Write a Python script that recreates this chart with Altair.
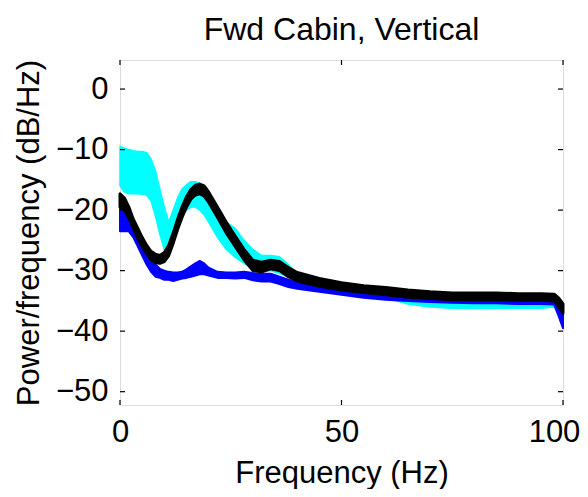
import altair as alt
import pandas as pd

freq = [0, 1, 2, 3, 4, 5, 6, 7, 8, 9, 10, 11, 12, 13, 14, 15, 16, 17, 18, 19, 20,
        22, 24, 26, 28, 30, 32, 34, 36, 38, 40, 45, 50, 55, 60, 65, 70, 75, 80, 85,
        90, 95, 98, 99, 100]

cyan_hi = [-9.5, -9.8, -10, -10.2, -10.3, -10.3, -10.5, -11.5, -13.5, -16.5, -19.5,
           -22, -20, -18, -16.5, -15.8, -15.3, -15.3, -15.5, -16.5, -18,
           -20.5, -22, -23, -25, -26.5, -27.5, -27.5, -27.7, -29, -30.5, -31.5, -32.3,
           -32.8, -33.3, -33.6, -34, -34, -34, -34.2, -34.2, -34.3, -34.3, -35, -38.5]
cyan_lo = [-16, -17, -17.3, -17.3, -17.3, -17.4, -17.5, -18.5, -21, -24, -26.5,
           -25.5, -23.5, -21.5, -20.5, -20, -19.5, -19.5, -20, -20.8, -22,
           -24.5, -26.5, -27.8, -28.8, -29.7, -30, -30, -30.5, -31, -31.8, -33, -33.5,
           -34, -34.5, -35.5, -36, -36.2, -36.2, -36.2, -36.2, -36.2, -36, -37, -39.5]

blue_hi = [-19.5, -20.5, -21.5, -22.5, -24, -25.5, -27, -28.2, -29, -29.7, -30,
           -30.2, -30.3, -30.3, -30.2, -29.8, -29.3, -28.8, -28.4, -28.8, -29.5,
           -30.2, -30.3, -30.3, -30.2, -30.4, -30.5, -30.5, -31, -31.5, -31.9, -32.5, -33,
           -33.3, -33.6, -33.8, -34, -34.1, -34.2, -34.2, -34.3, -34.3, -34.3, -35.5, -37]
blue_lo = [-23.5, -23.5, -23.5, -24.5, -26, -27.5, -29, -30.2, -31, -31.2, -31.5,
           -31.5, -31.7, -31.5, -31.3, -31.2, -31, -30.8, -30.6, -30.6, -30.8,
           -31.2, -31.2, -31.3, -31.2, -31.6, -31.8, -31.8, -32.2, -32.7, -33, -33.5, -34,
           -34.5, -34.8, -35, -35.2, -35.3, -35.4, -35.4, -35.5, -35.5, -35.6, -37.5, -39.5]

black_hi = [-17.3, -18, -19.5, -21.5, -23, -24.5, -25.8, -26.8, -27.3, -27.5, -27,
            -25.8, -23.8, -21.5, -19.5, -17.8, -16.6, -15.9, -15.7, -16, -17,
            -19.5, -22, -24.3, -26.5, -28.3, -28.6, -28.3, -28.5, -29.5, -30.3, -31.3, -32,
            -32.5, -32.8, -33.2, -33.5, -33.7, -33.7, -33.7, -33.8, -33.8, -33.9, -34.5, -35.5]
black_lo = [-19.5, -20, -21.3, -23, -24.7, -26, -27.2, -28.2, -28.7, -28.8, -28.5,
            -27.5, -25.5, -23.2, -21.2, -19.5, -18.2, -17.5, -17.3, -17.7, -18.7,
            -21.2, -23.8, -26, -28.2, -30, -30.2, -29.7, -30, -31, -31.7, -32.6, -33.2,
            -33.6, -34, -34.4, -34.6, -34.8, -34.8, -34.8, -34.9, -34.9, -35, -36, -37]

title_text = "Fwd Cabin, Vertical"
x_title = "Frequency (Hz)"
y_title = "Power/frequency (dB/Hz)"
x_ticks = [0, 50, 100]
y_ticks = [-50, -40, -30, -20, -10, 0]

FONT = "Liberation Sans"
W, H = 443, 345
xs = alt.Scale(domain=[0, 100], nice=False, zero=False)
ys = alt.Scale(domain=[-52.2, 4.8], nice=False, zero=False)


def band(lo, hi, color, sw):
    df = pd.DataFrame({"freq": freq, "lo": lo, "hi": hi})
    return alt.Chart(df).mark_area(color=color, stroke=color, strokeWidth=sw,
                                   strokeJoin="round", opacity=1,
                                   interpolate="linear").encode(
        x=alt.X("freq:Q", scale=xs),
        y=alt.Y("hi:Q", scale=ys),
        y2="lo:Q",
    )


base_axes = alt.Chart(pd.DataFrame({"freq": [0, 100], "v": [-52.2, 4.8]})).mark_point(opacity=0).encode(
    x=alt.X("freq:Q", scale=xs, title=x_title,
            axis=alt.Axis(values=x_ticks, ticks=False, domain=False, grid=False,
                          labelFontSize=31, titleFontSize=31, labelFont=FONT, titleFont=FONT,
                          labelColor="black", titleColor="black", labelPadding=12,
                          labelOffset={"condition": {"test": "datum.value == 100", "value": -9},
                                       "value": 0},
                          titlePadding=11, labelFlush=False, titleFontWeight="normal")),
    y=alt.Y("v:Q", scale=ys, title=y_title,
            axis=alt.Axis(values=y_ticks, ticks=False, domain=False, grid=False,
                          labelFontSize=31, titleFontSize=31, labelFont=FONT, titleFont=FONT,
                          labelColor="black", titleColor="black", labelPadding=12,
                          titlePadding=10, labelFlush=False, titleFontWeight="normal")),
)

ydf = pd.DataFrame({"t": y_ticks})
xdf = pd.DataFrame({"t": x_ticks})
ytl = alt.Chart(ydf).mark_rule(color="black", strokeWidth=1.2).encode(
    y=alt.Y("t:Q", scale=ys), x=alt.value(0), x2=alt.value(5))
ytr = alt.Chart(ydf).mark_rule(color="black", strokeWidth=1.2).encode(
    y=alt.Y("t:Q", scale=ys), x=alt.value(W - 5), x2=alt.value(W))
xtb = alt.Chart(xdf).mark_rule(color="black", strokeWidth=1.2).encode(
    x=alt.X("t:Q", scale=xs), y=alt.value(H - 5), y2=alt.value(H))
xtt = alt.Chart(xdf).mark_rule(color="black", strokeWidth=1.2).encode(
    x=alt.X("t:Q", scale=xs), y=alt.value(0), y2=alt.value(5))

chart = alt.layer(
    base_axes,
    band(cyan_lo, cyan_hi, "#00ffff", 1.5),
    band(blue_lo, blue_hi, "#0000ff", 2),
    band(black_lo, black_hi, "#000000", 3),
    ytl, ytr, xtb, xtt,
).properties(
    width=W, height=H,
    title=alt.TitleParams(title_text, font=FONT, fontSize=32, fontWeight="normal",
                          color="black", offset=10),
    autosize=alt.AutoSizeParams(type="none"),
    padding={"left": 112, "top": 52, "right": 17, "bottom": 84},
).configure_view(stroke="black", strokeWidth=1.5).configure(background="white")

chart.save("out.html", embed_options={"renderer": "svg", "actions": False})
